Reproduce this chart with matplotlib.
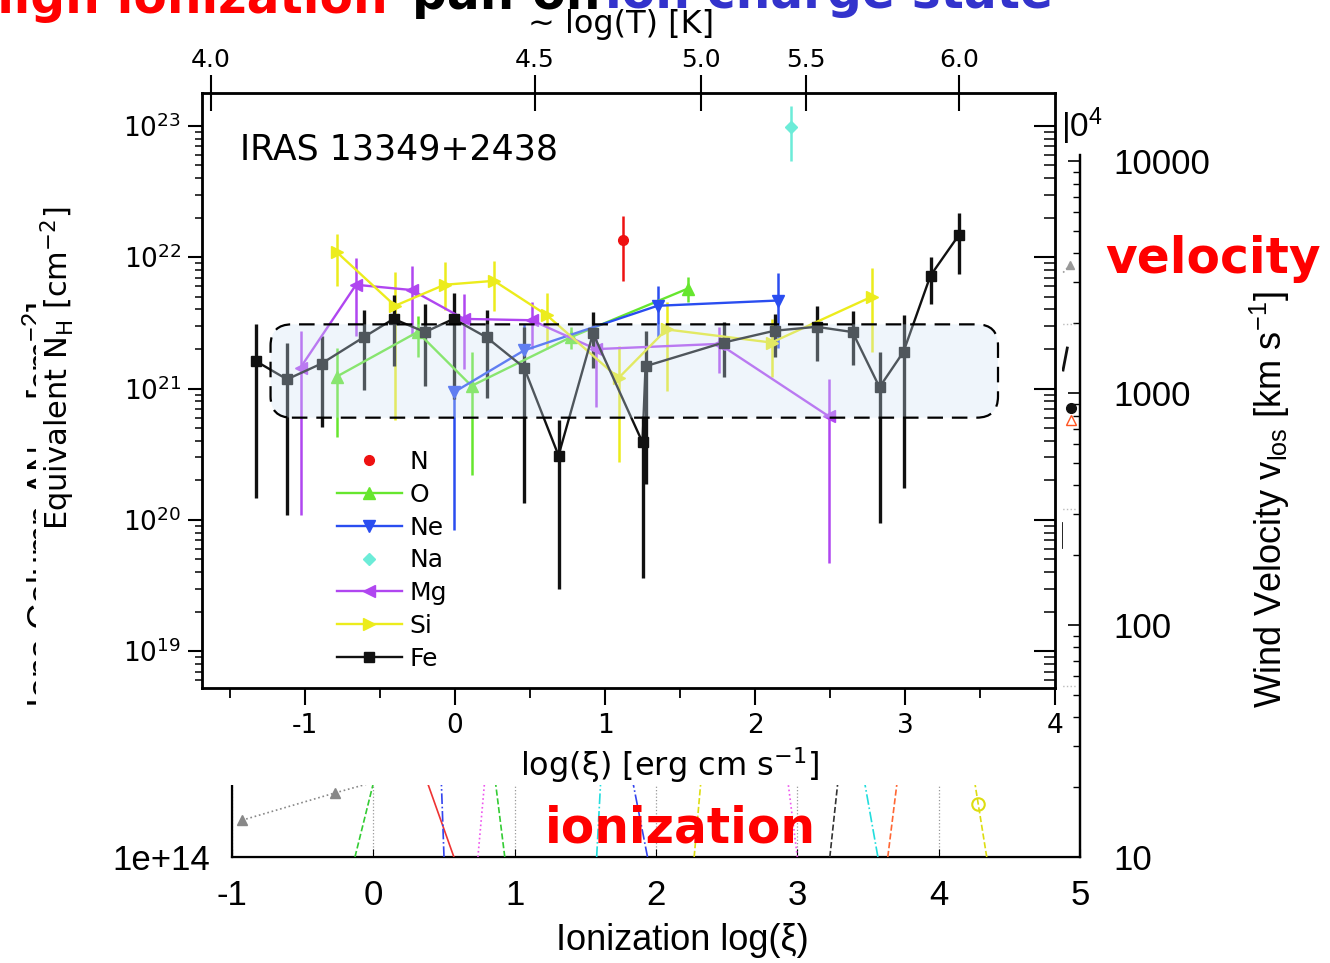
import numpy as np
import matplotlib.pyplot as plt
from matplotlib.patches import FancyBboxPatch, Rectangle
from matplotlib.ticker import MultipleLocator, NullFormatter, NullLocator, LogLocator

plt.rcParams['font.family'] = ['DejaVu Sans']
plt.rcParams['axes.unicode_minus'] = False
plt.rcParams['mathtext.default'] = 'regular'

W, H = 1330, 963
LOWER_FONT = ['Liberation Sans', 'DejaVu Sans']

# ---- main panel: log(xi), log10 N_H and log10 of the error-bar ends ----
elements = ['N', 'O', 'Ne', 'Na', 'Mg', 'Si', 'Fe']
colors = ['#ee1111', '#66e62e', '#2a4df0', '#6cecd8', '#b046f0', '#ecec1c', '#111111']
markers = ['o', '^', 'v', 'D', '<', '>', 's']
msizes = [7, 8.5, 8.5, 6, 8.5, 8.5, 6.5]

n_xi = [1.12]
n_nh = [22.13]
n_lo = [21.82]
n_hi = [22.31]

o_xi = [-0.79, -0.25, 0.11, 0.77, 1.55]
o_nh = [21.09, 21.43, 21.02, 21.39, 21.76]
o_lo = [20.63, 21.24, 20.34, 21.30, 21.66]
o_hi = [21.31, 21.55, 21.28, 21.47, 21.85]

ne_xi = [-0.01, 0.46, 1.35, 2.15]
ne_nh = [20.97, 21.29, 21.63, 21.67]
ne_lo = [19.92, 21.17, 21.39, 21.31]
ne_hi = [21.24, 21.49, 21.78, 21.88]

na_xi = [2.24]
na_nh = [22.99]
na_lo = [22.73]
na_hi = [23.15]

mg_xi = [-1.03, -0.66, -0.29, 0.06, 0.51, 0.94, 1.76, 2.49]
mg_nh = [21.16, 21.79, 21.75, 21.53, 21.52, 21.30, 21.34, 20.79]
mg_lo = [20.04, 21.40, 21.40, 21.15, 21.30, 20.86, 21.12, 19.67]
mg_hi = [21.44, 21.99, 21.93, 21.72, 21.66, 21.45, 21.47, 21.07]

si_xi = [-0.79, -0.40, -0.07, 0.26, 0.61, 1.09, 1.41, 2.11, 2.78]
si_nh = [22.04, 21.63, 21.79, 21.82, 21.56, 21.08, 21.45, 21.35, 21.70]
si_lo = [21.78, 20.76, 21.60, 21.59, 21.30, 20.44, 20.98, 21.09, 21.28]
si_hi = [22.18, 21.89, 21.96, 21.97, 21.73, 21.32, 21.66, 21.53, 21.92]

fe_xi = [-1.33, -1.12, -0.89, -0.61, -0.41, -0.20, -0.01, 0.21, 0.46, 0.69, 0.92,
         1.25, 1.27, 1.79, 2.13, 2.41, 2.65, 2.83, 2.99, 3.17, 3.36]
fe_nh = [21.21, 21.07, 21.19, 21.39, 21.53, 21.43, 21.53, 21.39, 21.16, 20.49, 21.42,
         20.59, 21.17, 21.35, 21.44, 21.47, 21.43, 21.01, 21.28, 21.86, 22.17]
fe_lo = [20.17, 20.04, 20.71, 20.99, 21.17, 21.02, 20.92, 20.93, 20.13, 19.47, 21.16,
         19.56, 20.27, 21.09, 21.24, 21.21, 21.18, 19.98, 20.24, 21.64, 21.87]
fe_hi = [21.49, 21.35, 21.40, 21.60, 21.71, 21.64, 21.73, 21.60, 21.47, 20.76, 21.58,
         20.79, 21.44, 21.51, 21.57, 21.63, 21.59, 21.28, 21.56, 22.00, 22.34]

series = [(n_xi, n_nh, n_lo, n_hi), (o_xi, o_nh, o_lo, o_hi), (ne_xi, ne_nh, ne_lo, ne_hi),
          (na_xi, na_nh, na_lo, na_hi), (mg_xi, mg_nh, mg_lo, mg_hi),
          (si_xi, si_nh, si_lo, si_hi), (fe_xi, fe_nh, fe_lo, fe_hi)]

# shaded region
box_xi = [-1.23, 3.62]
box_nh = [6.0e20, 3.08e21]

# top temperature axis (positions in log xi)
temp_xi = [-1.63, 0.53, 1.64, 2.34, 3.36]
temp_labels = ['4.0', '4.5', '5.0', '5.5', '6.0']

# ---- background panel: wind velocity vs ionization (only a strip is visible) ----
vel_ticks = [10, 100, 1000, 10000]
strip_xi = [[-0.93, -0.27, 0.12], [-0.13, 0.01], [0.57, 0.37], [0.50, 0.48], [0.74, 0.79],
            [0.93, 0.86], [1.58, 1.61], [1.94, 1.83], [2.27, 2.32], [3.00, 2.93],
            [3.23, 3.29], [3.57, 3.47], [3.64, 3.71], [4.34, 4.28, 4.25]]
strip_v = [[14.4, 18.9, 22], [10, 22], [10, 22], [10, 22], [10, 22],
           [10, 22], [10, 22], [10, 22], [10, 22], [10, 22],
           [10, 22], [10, 22], [10, 22], [10, 16.9, 22]]
strip_colors = ['#888888', '#33cc33', '#ee3333', '#3344ee', '#ee55ee', '#33cc33', '#22dddd',
                '#3344ee', '#dddd11', '#ee55ee', '#333333', '#22dddd', '#ff6633', '#dddd11']
strip_ls = [':', '--', '-', '-.', ':', '--', '-.', '-.', '--', ':', '--', '-.', '--', '--']


def px_box(l, t, r, b):
    return [l / W, 1 - b / H, (r - l) / W, (b - t) / H]


fig = plt.figure(figsize=(W / 100, H / 100), dpi=100)

# ---------------- background (lower) chart ----------------
ax_bg = fig.add_axes(px_box(232, 155, 1080, 857))
ax_bg.set_zorder(0)
ax_bg.set_yscale('log')
ax_bg.set_ylim(1e14, 1e17)
ax_bg.set_yticks([1e14], labels=['1e+14'])
ax_bg.yaxis.set_minor_locator(NullLocator())
ax_bg.set_xlim(-1, 5)
ax_bg.set_xticks(range(-1, 6))
ax_bg.tick_params(axis='y', length=0, pad=16, labelsize=25, labelfontfamily=LOWER_FONT)
ax_bg.tick_params(axis='x', direction='in', length=6, pad=16, labelsize=25,
                  labelfontfamily=LOWER_FONT)
ax_bg.grid(axis='x', linestyle=':', color='#999999', lw=0.9)
ax_bg.spines['top'].set_visible(False)
for s in ['left', 'bottom', 'right']:
    ax_bg.spines[s].set_linewidth(1.6)

ax_v = ax_bg.twinx()
ax_v.set_zorder(0.1)
ax_v.set_yscale('log')
ax_v.set_ylim(10, 10 ** 4.026)
ax_v.set_yticks(vel_ticks, labels=[str(v) for v in vel_ticks])
ax_v.yaxis.set_minor_locator(LogLocator(subs=np.arange(2, 10)))
ax_v.yaxis.set_minor_formatter(NullFormatter())
ax_v.tick_params(axis='y', which='major', direction='in', length=9, width=1.2, pad=24,
                 labelsize=25, labelfontfamily=LOWER_FONT)
ax_v.tick_params(axis='y', which='minor', direction='in', length=5, width=1.0)
ax_v.spines['top'].set_visible(False)
ax_v.spines['right'].set_linewidth(1.6)

for i, (xs, vs) in enumerate(zip(strip_xi, strip_v)):
    ax_v.plot(xs, vs, color=strip_colors[i], ls=strip_ls[i], lw=1.2)
ax_v.plot(strip_xi[0][:2], strip_v[0][:2], ls='none', marker='^', color='#888888', ms=7)
ax_v.plot(strip_xi[-1][1], strip_v[-1][1], ls='none', marker='o', mfc='none',
          mec='#dddd11', mew=1.5, ms=9)

# bits of the background chart peeking out at the right edge
ax_v.plot([4.86, 4.93], [3200, 3565], color='#999999', ls=':', lw=1.2)
ax_v.plot(4.93, 3565, marker='^', color='#999999', ms=6)
ax_v.plot([4.88, 4.91], [1256, 1563], color='#111111', lw=2)
ax_v.plot(4.935, 861, marker='o', color='#111111', ms=7)
ax_v.plot(4.935, 766, marker='^', mfc='none', mec='#ff5522', ms=7)
ax_v.plot([4.865, 4.865], [217, 275], color='#111111', lw=2)
for v in [1980, 316, 54.6]:
    ax_v.plot([4.85, 4.97], [v, v], color='#bbbbbb', ls=':', lw=1)

fig.text(43 / W, 1 - 505 / H, r'Ions Column $\Delta$N$_{ion}$ [cm$^{-2}$]', rotation=90,
         ha='center', va='center', fontsize=26, family=LOWER_FONT, zorder=0.2)
fig.text(1270 / W, 1 - 500 / H, r'Wind Velocity v$_{los}$ [km s$^{-1}$]', rotation=90,
         ha='center', va='center', fontsize=26, family=LOWER_FONT)
fig.text(682 / W, 1 - 940 / H, 'Ionization log(ξ)', ha='center', va='center',
         fontsize=26, family=LOWER_FONT)
fig.text(1061 / W, 1 - 126 / H, r'|0$^{4}$', ha='left', va='center', fontsize=24,
         family=LOWER_FONT)

# white backing of the pasted main chart
fig.add_artist(Rectangle((36 / W, 1 - 785 / H), 1026 / W, 785 / H, transform=fig.transFigure,
                         facecolor='white', edgecolor='none', zorder=0.5))

# ---------------- main chart ----------------
ax = fig.add_axes(px_box(202, 93, 1055, 688))
ax.set_zorder(1)
ax.set_yscale('log')
ax.set_ylim(10 ** 18.72, 10 ** 23.25)
ax.set_xlim(-1.687, 4)

for el, c, m, ms, (xi, nh, lo, hi) in zip(elements, colors, markers, msizes, series):
    xi = np.array(xi)
    nh = 10 ** np.array(nh)
    lo = 10 ** np.array(lo)
    hi = 10 ** np.array(hi)
    ax.errorbar(xi, nh, yerr=[nh - lo, hi - nh], fmt='none', ecolor=c,
                elinewidth=2.4 if el == 'Fe' else 1.8, capsize=0, zorder=2)
    ax.plot(xi, nh, color=c, ls='-' if len(xi) > 1 else 'none', lw=1.7, marker=m, ms=ms,
            label=el, zorder=3)

ax.set_xticks(range(-1, 5))
ax.xaxis.set_minor_locator(MultipleLocator(0.5))
ax.tick_params(axis='x', which='major', direction='out', length=12, width=1.5, pad=6,
               labelsize=19)
ax.tick_params(axis='x', which='minor', direction='out', length=7, width=1.3)
ax.tick_params(axis='y', which='major', direction='out', length=10, width=1.5, pad=5,
               labelsize=19)
ax.tick_params(axis='y', which='minor', direction='out', length=5, width=1.1)
for s in ax.spines.values():
    s.set_linewidth(2)

# rounded shaded box, drawn over the data
to_ax = ax.transData + ax.transAxes.inverted()
(bx0, by0), (bx1, by1) = to_ax.transform([(box_xi[0], box_nh[0]), (box_xi[1], box_nh[1])])
bstyle = 'round,pad=0,rounding_size=0.025'
ax.add_patch(FancyBboxPatch((bx0, by0), bx1 - bx0, by1 - by0, boxstyle=bstyle,
                            mutation_aspect=853 / 595, transform=ax.transAxes,
                            facecolor=(0.81, 0.89, 0.96), edgecolor='none', alpha=0.33,
                            zorder=4))
ax.add_patch(FancyBboxPatch((bx0, by0), bx1 - bx0, by1 - by0, boxstyle=bstyle,
                            mutation_aspect=853 / 595, transform=ax.transAxes,
                            facecolor='none', edgecolor='black', lw=1.6,
                            linestyle=(0, (7, 4)), zorder=5))

ax.text(0.045, 0.905, 'IRAS 13349+2438', transform=ax.transAxes, fontsize=25,
        ha='left', va='center')
ax.legend(loc='upper left', bbox_to_anchor=(0.158, 0.40), frameon=False, fontsize=18,
          handlelength=2.6, handletextpad=0.3, labelspacing=0.35, borderpad=0,
          borderaxespad=0)

# right spine ticks (inward)
ax_r = ax.twinx()
ax_r.set_zorder(2)
ax_r.set_yscale('log')
ax_r.set_ylim(ax.get_ylim())
ax_r.tick_params(axis='y', which='major', direction='in', length=15, width=1.5,
                 labelright=False)
ax_r.tick_params(axis='y', which='minor', direction='in', length=8, width=1.1)
ax_r.yaxis.set_minor_formatter(NullFormatter())

# top temperature axis
ax_t = ax.twiny()
ax_t.set_zorder(2)
ax_t.set_xlim(ax.get_xlim())
ax_t.set_xticks(temp_xi, labels=temp_labels)
ax_t.tick_params(axis='x', direction='inout', length=26, width=1.5, pad=2, labelsize=18)

fig.text(621 / W, 1 - 24 / H, '~ log(T) [K]', ha='center', va='center', fontsize=23)
fig.text(670 / W, 1 - 765 / H, r'log(ξ) [erg cm s$^{-1}$]', ha='center', va='center',
         fontsize=23, zorder=3)
fig.text(58 / W, 1 - 368 / H, r'Equivalent N$_{H}$ [cm$^{-2}$]', rotation=90,
         ha='center', va='center', fontsize=22, zorder=3)

# slide annotations
fig.text(1105 / W, 1 - 273 / H, 'velocity', color='#ff0000', fontsize=35,
         fontweight='bold', ha='left', va='baseline', zorder=5)
fig.text(680 / W, 1 - 842 / H, 'ionization', color='#ff0000', fontsize=35,
         fontweight='bold', ha='center', va='baseline', zorder=5)
fig.text(388 / W, 1 - 13 / H, 'high ionization', color='#ff0000', fontsize=35,
         fontweight='bold', ha='right', va='baseline', zorder=5)
fig.text(412 / W, 1 - 9 / H, 'par. on', color='black', fontsize=35,
         fontweight='bold', ha='left', va='baseline', zorder=5)
fig.text(605 / W, 1 - 8 / H, 'ion charge state', color='#3333cc', fontsize=35,
         fontweight='bold', ha='left', va='baseline', zorder=5)

fig.savefig('out.png', dpi=100)
